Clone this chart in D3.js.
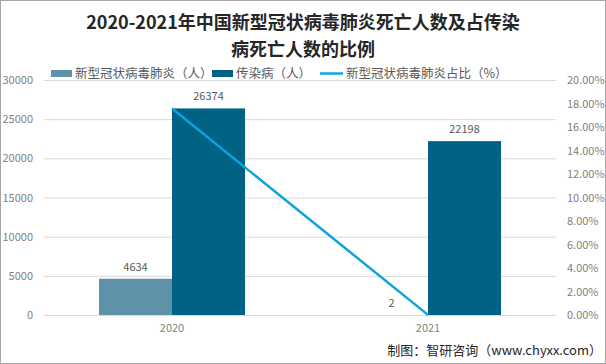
<!DOCTYPE html>
<html><head><meta charset="utf-8">
<script src="https://cdn.jsdelivr.net/npm/d3@7/dist/d3.min.js"></script>
<style>body{margin:0;background:#fff}svg{display:block}</style>
</head><body>
<svg id="c" width="606" height="364"></svg>
<script>
const categories = ["2020", "2021"];
const covidDeaths = [4634, 2];
const infectiousDeaths = [26374, 22198];
const ratio = [17.57, 0.009];
const leftTicks = [0, 5000, 10000, 15000, 20000, 25000, 30000];
const rightTicks = [0, 2, 4, 6, 8, 10, 12, 14, 16, 18, 20];
const seriesNames = ["新型冠状病毒肺炎（人）", "传染病（人）", "新型冠状病毒肺炎占比（%）"];

const svg = d3.select("#c");
const W = 606, H = 364;
const font = "'Noto Sans CJK SC', 'Microsoft YaHei', sans-serif";
const cLight = "#5f92a8", cDark = "#006386", cLine = "#0ca4dd";

svg.append("rect").attr("x",0.5).attr("y",0.5).attr("width",W-1).attr("height",H-1)
  .attr("fill","#fff").attr("stroke","#a6a6a6");

const m = {l:44, r:50, t:80, b:49};
const x = d3.scaleBand().domain(categories).range([m.l, W-m.r]);
const y = d3.scaleLinear().domain([0,30000]).range([H-m.b, m.t]);
const y2 = d3.scaleLinear().domain([0,20]).range([H-m.b, m.t]);
const barW = 73;

// grid
svg.append("g").selectAll("line").data(leftTicks).join("line")
  .attr("x1",m.l).attr("x2",W-m.r).attr("y1",d=>y(d)+0.5).attr("y2",d=>y(d)+0.5)
  .attr("stroke","#d9d9d9").attr("stroke-width",1);

// left axis labels
const lax = d3.axisLeft(y).tickValues(leftTicks).tickSize(0).tickPadding(11).tickFormat(d3.format("d"));
const gL = svg.append("g").attr("transform",`translate(${m.l},0)`).call(lax);
gL.select(".domain").remove();
gL.selectAll("text").attr("font-family",font).attr("font-size",11).attr("fill","#7f7f7f");

// right axis labels
const rax = d3.axisRight(y2).tickValues(rightTicks).tickSize(0).tickPadding(11)
  .tickFormat(d=>d.toFixed(2)+"%");
const gR = svg.append("g").attr("transform",`translate(${W-m.r},0)`).call(rax);
gR.select(".domain").remove();
gR.selectAll("text").attr("font-family",font).attr("font-size",11).attr("fill","#7f7f7f");

// x axis labels
const xax = d3.axisBottom(x).tickSize(0).tickPadding(9);
const gX = svg.append("g").attr("transform",`translate(0,${H-m.b})`).call(xax);
gX.select(".domain").remove();
gX.selectAll("text").attr("font-family",font).attr("font-size",11).attr("fill","#7f7f7f");

// bars
const cx = d => x(d) + x.bandwidth()/2;
svg.append("g").selectAll("rect").data(categories).join("rect")
  .attr("x",d=>cx(d)-barW).attr("width",barW)
  .attr("y",(d,i)=>y(covidDeaths[i])).attr("height",(d,i)=>y(0)-y(covidDeaths[i]))
  .attr("fill",cLight);
svg.append("g").selectAll("rect").data(categories).join("rect")
  .attr("x",d=>cx(d)).attr("width",barW)
  .attr("y",(d,i)=>y(infectiousDeaths[i])).attr("height",(d,i)=>y(0)-y(infectiousDeaths[i]))
  .attr("fill",cDark);

// value labels
svg.append("g").selectAll("text").data(categories).join("text")
  .attr("x",d=>cx(d)-barW/2).attr("y",(d,i)=>y(covidDeaths[i])-8)
  .attr("text-anchor","middle").attr("font-family",font).attr("font-size",11).attr("fill","#595959")
  .text((d,i)=>covidDeaths[i]);
svg.append("g").selectAll("text").data(categories).join("text")
  .attr("x",d=>cx(d)+barW/2).attr("y",(d,i)=>y(infectiousDeaths[i])-8)
  .attr("text-anchor","middle").attr("font-family",font).attr("font-size",11).attr("fill","#595959")
  .text((d,i)=>infectiousDeaths[i]);

// line
const line = d3.line().x((d,i)=>cx(categories[i])).y(d=>y2(d));
svg.append("path").datum(ratio).attr("d",line).attr("fill","none")
  .attr("stroke",cLine).attr("stroke-width",2.5);

// title
const title = svg.append("text").attr("text-anchor","middle").attr("font-family",font)
  .attr("font-size",18).attr("font-weight","bold").attr("fill","#262626");
title.append("tspan").attr("x",303).attr("y",29).text("2020-2021年中国新型冠状病毒肺炎死亡人数及占传染");
title.append("tspan").attr("x",303).attr("y",56).text("病死亡人数的比例");

// legend
const leg = [
  {x:51, w:21, t:"rect", c:cLight},
  {x:212, w:21, t:"rect", c:cDark},
  {x:320, w:23, t:"line", c:cLine}
];
leg.forEach((L,i)=>{
  if (L.t==="rect") svg.append("rect").attr("x",L.x).attr("y",70).attr("width",L.w).attr("height",7).attr("fill",L.c);
  else svg.append("line").attr("x1",L.x).attr("x2",L.x+L.w).attr("y1",73.5).attr("y2",73.5).attr("stroke",L.c).attr("stroke-width",2.5);
  svg.append("text").attr("x",L.x+L.w+3).attr("y",78).attr("font-family",font).attr("font-size",12.5)
    .attr("fill","#595959").text(seriesNames[i]);
});

// footer
svg.append("text").attr("x",602).attr("y",355).attr("text-anchor","end").attr("font-family",font)
  .attr("font-size",13).attr("fill","#262626").text("制图：智研咨询（www.chyxx.com）");
</script>
</body></html>
